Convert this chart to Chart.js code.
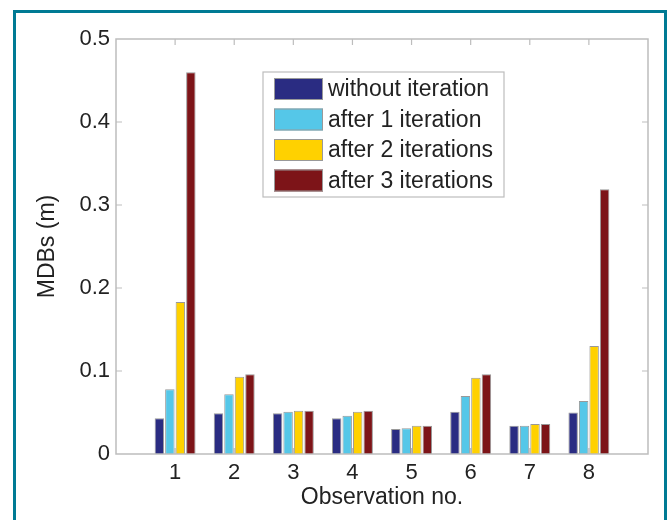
<!DOCTYPE html>
<html>
<head>
<meta charset="utf-8">
<script src="https://cdn.jsdelivr.net/npm/chart.js@4.4.1/dist/chart.umd.min.js"></script>
<style>
  html, body { margin: 0; padding: 0; background: #fff; }
  #wrap { position: relative; width: 672px; height: 520px; overflow: hidden; }
  #frame { position: absolute; left: 13px; top: 10px; width: 654px; height: 600px;
           box-sizing: border-box; border: 3px solid #007A94; }
  #chart { position: absolute; left: 0; top: 0; }
</style>
</head>
<body>
<div id="wrap">
  <div id="frame"></div>
  <canvas id="chart" width="672" height="520"></canvas>
</div>
<script>
const observations = [1, 2, 3, 4, 5, 6, 7, 8];
const withoutIter = [0.043, 0.049, 0.049, 0.043, 0.030, 0.051, 0.034, 0.050];
const after1Iter  = [0.078, 0.072, 0.051, 0.046, 0.031, 0.070, 0.034, 0.064];
const after2Iter  = [0.183, 0.093, 0.052, 0.051, 0.034, 0.092, 0.036, 0.130];
const after3Iter  = [0.460, 0.096, 0.052, 0.052, 0.034, 0.096, 0.036, 0.319];
const seriesNames = ['without iteration', 'after 1 iteration', 'after 2 iterations', 'after 3 iterations'];
const seriesColors = ['#2A2C82', '#55C7E8', '#FFD100', '#7D1418'];

const FONT = 'Liberation Sans, Arial, Helvetica, sans-serif';
const TEXT = '#222222';
const AXIS = '#BDBDBD';

const toPoints = vals => observations.map((o, i) => ({ x: o, y: vals[i] }));

// MATLAB-style box with inward ticks
const boxPlugin = {
  id: 'box',
  beforeDatasetsDraw(chart) {
    const { ctx, chartArea: a, scales: { x, y } } = chart;
    ctx.save();
    ctx.strokeStyle = AXIS;
    ctx.lineWidth = 1.2;
    ctx.beginPath();
    observations.forEach(o => {
      const px = x.getPixelForValue(o);
      ctx.moveTo(px, a.bottom); ctx.lineTo(px, a.bottom - 6);
      ctx.moveTo(px, a.top); ctx.lineTo(px, a.top + 6);
    });
    [0.1, 0.2, 0.3, 0.4].forEach(v => {
      const py = y.getPixelForValue(v);
      ctx.moveTo(a.left, py); ctx.lineTo(a.left + 6, py);
      ctx.moveTo(a.right, py); ctx.lineTo(a.right - 6, py);
    });
    ctx.stroke();
    ctx.restore();
  },
  afterDatasetsDraw(chart) {
    const { ctx, chartArea: a } = chart;
    ctx.save();
    ctx.strokeStyle = AXIS;
    ctx.lineWidth = 1.5;
    ctx.strokeRect(a.left, a.top, a.right - a.left, a.bottom - a.top);
    ctx.restore();
  }
};

// legend box placed inside the plot like the original
const legendPlugin = {
  id: 'boxLegend',
  afterDraw(chart) {
    const ctx = chart.ctx;
    const bx = 263, by = 72, bw = 241, bh = 125;
    ctx.save();
    ctx.fillStyle = '#fff';
    ctx.fillRect(bx, by, bw, bh);
    ctx.strokeStyle = AXIS;
    ctx.lineWidth = 1.2;
    ctx.strokeRect(bx, by, bw, bh);
    ctx.font = '23px ' + FONT;
    ctx.textBaseline = 'middle';
    ctx.textAlign = 'left';
    chart.data.datasets.forEach((ds, i) => {
      const sy = by + 6 + i * 30.5;
      ctx.fillStyle = ds.backgroundColor;
      ctx.fillRect(274, sy, 49, 22);
      ctx.strokeStyle = '#999';
      ctx.lineWidth = 1;
      ctx.strokeRect(274.5, sy + 0.5, 48, 21);
      ctx.fillStyle = TEXT;
      ctx.fillText(ds.label, 328, sy + 12);
    });
    ctx.restore();
  }
};

const datasets = [withoutIter, after1Iter, after2Iter, after3Iter].map((vals, i) => ({
  label: seriesNames[i],
  data: toPoints(vals),
  backgroundColor: seriesColors[i],
  borderColor: '#999999',
  borderWidth: 1,
  categoryPercentage: 0.71,
  barPercentage: 0.9
}));

const ctx = document.getElementById('chart');

const chart = new Chart(ctx, {
  type: 'bar',
  data: { datasets: datasets },
  options: {
    responsive: false,
    animation: false,
    layout: { padding: { top: 39, right: 24, left: 0, bottom: 0 } },
    scales: {
      x: {
        type: 'linear',
        min: 0,
        max: 9,
        offset: false,
        grid: { display: false, drawTicks: false },
        border: { display: false },
        ticks: {
          stepSize: 1,
          padding: 6,
          color: TEXT,
          font: { family: FONT, size: 22 },
          maxRotation: 0,
          callback: function(value) {
            return (value >= 1 && value <= 8) ? String(value) : '';
          }
        },
        title: {
          display: true,
          text: 'Observation no.',
          color: TEXT,
          font: { family: FONT, size: 23 },
          padding: { top: 0, bottom: 9 }
        },
        afterFit: function(scale) { scale.height = 66; }
      },
      y: {
        min: 0,
        max: 0.5,
        grid: { display: false, drawTicks: false },
        border: { display: false },
        ticks: {
          stepSize: 0.1,
          padding: 6,
          color: TEXT,
          font: { family: FONT, size: 22 }
        },
        title: {
          display: true,
          text: 'MDBs (m)',
          color: TEXT,
          font: { family: FONT, size: 23 },
          padding: { top: 34, bottom: 0 }
        },
        afterFit: function(scale) { scale.width = 116; }
      }
    },
    plugins: {
      legend: { display: false },
      tooltip: { enabled: false }
    }
  },
  plugins: [boxPlugin, legendPlugin]
});
</script>
</body>
</html>
